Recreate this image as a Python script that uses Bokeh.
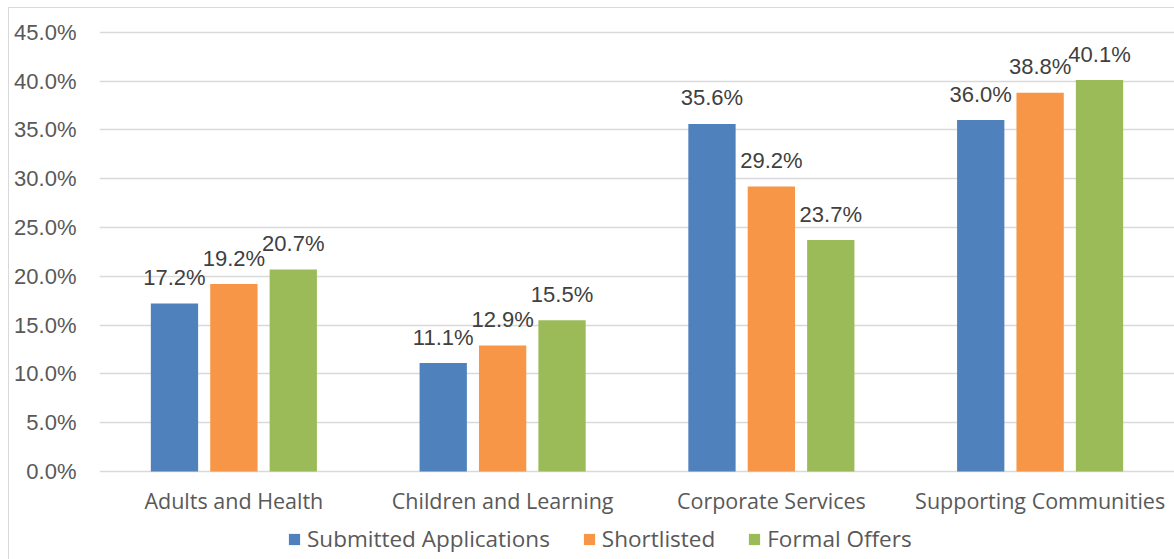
from bokeh.plotting import figure
from bokeh.models import (ColumnDataSource, FactorRange, FixedTicker, PrintfTickFormatter,
                          Legend, LegendItem, LabelSet)
from bokeh.transform import dodge
from bokeh.core.properties import value
from bokeh.embed import file_html
from bokeh.resources import INLINE

categories = ["Adults and Health", "Children and Learning", "Corporate Services", "Supporting Communities"]
series_names = ["Submitted Applications", "Shortlisted", "Formal Offers"]
submitted = [17.2, 11.1, 35.6, 36.0]
shortlisted = [19.2, 12.9, 29.2, 38.8]
offers = [20.7, 15.5, 23.7, 40.1]
y_ticks = [0, 5, 10, 15, 20, 25, 30, 35, 40, 45]

colors = ["#4F81BD", "#F79646", "#9BBB59"]
offsets = [-0.221, 0.0, 0.221]

src = ColumnDataSource(dict(
    cat=categories,
    s0=submitted, s1=shortlisted, s2=offers,
    l0=[f"{v:.1f}%" for v in submitted],
    l1=[f"{v:.1f}%" for v in shortlisted],
    l2=[f"{v:.1f}%" for v in offers],
))

p = figure(x_range=FactorRange(*categories), y_range=(-9.02, 46.2),
           width=1165, height=551, output_backend="svg", toolbar_location=None,
           min_border_left=90, min_border_right=0, min_border_top=12, min_border_bottom=0)
p.margin = (8, 0, 0, 9)
p.styles = {"outline": "1px solid #d9d9d9"}
p.x_range.range_padding = 0
p.x_range.factor_padding = 0
p.outline_line_color = None
p.background_fill_color = "white"
p.border_fill_color = "white"

renderers = []
for i in range(3):
    r = p.vbar(x=dodge("cat", offsets[i], range=p.x_range), top=f"s{i}", width=0.176,
               source=src, fill_color=colors[i], line_color=None)
    renderers.append(r)
    lbl = LabelSet(x=dodge("cat", offsets[i], range=p.x_range), y=f"s{i}", text=f"l{i}",
                   source=src, text_align="center", text_baseline="middle", y_offset=26,
                   text_font=value("Liberation Sans"), text_font_size="22px", text_color="#404040")
    p.add_layout(lbl)

# category labels under the zero line
cat_labels = LabelSet(x="cat", y=0, text="cat", source=src, text_align="center",
                      text_baseline="middle", y_offset=-29,
                      text_font=value("Open Sans"), text_font_size="21.5px", text_color="#595959")
p.add_layout(cat_labels)

# axes
p.xaxis.visible = False
p.yaxis.ticker = FixedTicker(ticks=y_ticks)
p.yaxis.formatter = PrintfTickFormatter(format="%.1f%%")
p.yaxis.axis_line_color = None
p.yaxis.major_tick_line_color = None
p.yaxis.minor_tick_line_color = None
p.yaxis.major_tick_out = 0
p.yaxis.major_tick_in = 0
p.yaxis.major_label_standoff = 23
p.yaxis.major_label_text_font = "Liberation Sans"
p.yaxis.major_label_text_font_size = "22px"
p.yaxis.major_label_text_color = "#595959"

p.xgrid.grid_line_color = None
p.ygrid.ticker = FixedTicker(ticks=y_ticks)
p.ygrid.grid_line_color = "#d9d9d9"
p.ygrid.grid_line_width = 1.5

legend = Legend(items=[LegendItem(label=series_names[i], renderers=[renderers[i]]) for i in range(3)],
                orientation="horizontal", location=(188, 5),
                glyph_width=14, glyph_height=14, label_standoff=6, spacing=32,
                label_text_font="Open Sans", label_text_font_size="22.5px",
                label_text_color="#595959", border_line_color=None,
                background_fill_alpha=0, padding=0, margin=0)
p.add_layout(legend, "center")

open("out.html", "w").write(file_html(p, INLINE))
